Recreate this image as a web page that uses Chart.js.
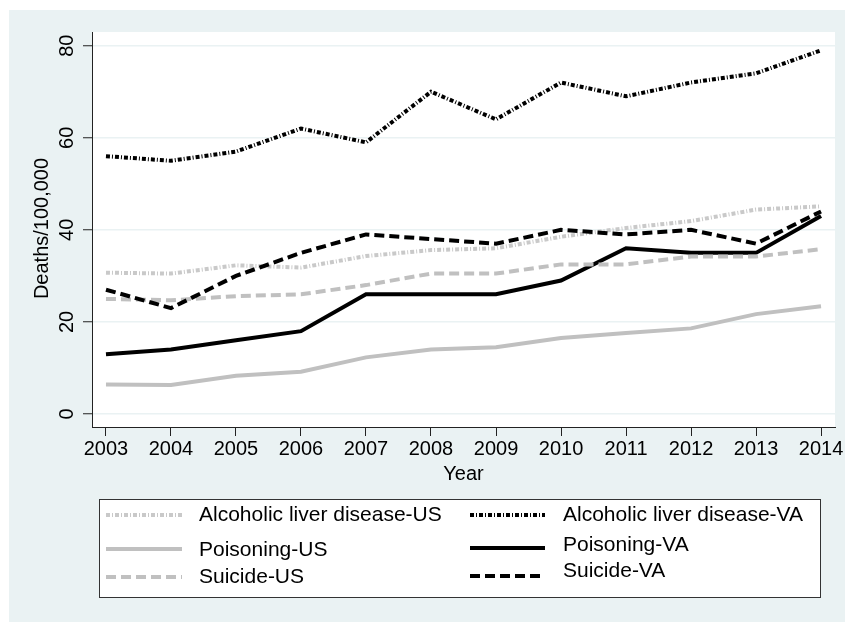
<!DOCTYPE html>
<html>
<head>
<meta charset="utf-8">
<script src="https://cdn.jsdelivr.net/npm/chart.js@4/dist/chart.umd.min.js"></script>
<style>
  html, body { margin: 0; padding: 0; background: #ffffff; }
  #wrap { width: 845px; height: 622px; }
</style>
</head>
<body>
<div id="wrap"><canvas id="c" width="845" height="622"></canvas></div>
<script>
// Death rates per 100,000, 2003-2014
const years = [2003, 2004, 2005, 2006, 2007, 2008, 2009, 2010, 2011, 2012, 2013, 2014];
const alcoholUS   = [30.7, 30.5, 32.3, 31.8, 34.3, 35.6, 36.0, 38.5, 40.4, 41.9, 44.4, 45.1];
const alcoholVA   = [56, 55, 57, 62, 59, 70, 64, 72, 69, 72, 74, 79];
const poisonUS    = [6.4, 6.3, 8.3, 9.2, 12.3, 14.0, 14.5, 16.5, 17.6, 18.6, 21.7, 23.4];
const poisonVA    = [13, 14, 16, 18, 26, 26, 26, 29, 36, 35, 35, 43];
const suicideUS   = [25.0, 24.7, 25.6, 26.0, 28.0, 30.5, 30.5, 32.5, 32.5, 34.2, 34.2, 35.8];
const suicideVA   = [27, 23, 30, 35, 39, 38, 37, 40, 39, 40, 37, 44];
const yTickValues = [0, 20, 40, 60, 80];
const seriesNames = [
  'Alcoholic liver disease-US', 'Alcoholic liver disease-VA',
  'Poisoning-US', 'Poisoning-VA',
  'Suicide-US', 'Suicide-VA'
];

const FONT = "'Liberation Sans', Arial, Helvetica, sans-serif";
const REGION_BG = '#eaf2f3';
const GREY = '#c0c0c0';
const LIGHT_GREY = '#c9c9c9';
const dotDash = [4, 2, 1, 2];
const longDash = [10, 5];

function series(label, data, color, dash, order) {
  return {
    label, order,
    data: data.map((v, i) => ({ x: years[i], y: v })),
    borderColor: color,
    backgroundColor: color,
    borderWidth: 4,
    borderDash: dash,
    borderCapStyle: 'butt',
    pointRadius: 0,
    tension: 0,
    fill: false
  };
}

// Graph region background, plot area and the custom text (y labels, y title, legend)
const frame = {
  id: 'frame',
  beforeDraw(chart) {
    const { ctx, chartArea: a } = chart;
    ctx.save();
    ctx.fillStyle = '#ffffff';
    ctx.fillRect(0, 0, chart.width, chart.height);
    ctx.fillStyle = REGION_BG;
    ctx.fillRect(9, 10, chart.width - 9, chart.height - 10);
    ctx.fillStyle = '#ffffff';
    ctx.fillRect(a.left, a.top, a.right - a.left, a.bottom - a.top);
    ctx.restore();
  },
  afterDraw(chart) {
    const { ctx } = chart;
    const ys = chart.scales.y;
    ctx.save();
    ctx.fillStyle = '#000';
    ctx.textAlign = 'center';
    ctx.textBaseline = 'middle';
    // rotated y tick labels
    ctx.font = `20px ${FONT}`;
    ys.ticks.forEach(t => {
      const py = ys.getPixelForValue(t.value);
      ctx.save();
      ctx.translate(67, py);
      ctx.rotate(-Math.PI / 2);
      ctx.fillText(String(t.value), 0, 0);
      ctx.restore();
    });
    // y axis title
    ctx.save();
    ctx.translate(42, (ys.top + ys.bottom) / 2 - 1);
    ctx.rotate(-Math.PI / 2);
    ctx.fillText('Deaths/100,000', 0, 0);
    ctx.restore();

    // legend box
    const bx = 99.5, by = 499.5, bw = 721, bh = 98;
    ctx.fillStyle = '#ffffff';
    ctx.fillRect(bx, by, bw, bh);
    ctx.strokeStyle = '#333';
    ctx.lineWidth = 1;
    ctx.strokeRect(bx, by, bw, bh);

    const cols = [
      { lx0: 106, lx1: 182, tx: 199, lineY: [515, 549, 577], textY: [515, 550, 577] },
      { lx0: 470, lx1: 545, tx: 563, lineY: [515, 548, 576], textY: [515, 545, 571] }
    ];
    ctx.font = `21px ${FONT}`;
    ctx.textAlign = 'left';
    chart.data.datasets.forEach((ds, i) => {
      const c = cols[i % 2];
      const r = Math.floor(i / 2);
      ctx.save();
      ctx.strokeStyle = ds.borderColor;
      ctx.lineWidth = ds.borderWidth;
      ctx.lineCap = 'butt';
      ctx.setLineDash(ds.borderDash || []);
      ctx.beginPath();
      ctx.moveTo(c.lx0, c.lineY[r]);
      ctx.lineTo(c.lx1, c.lineY[r]);
      ctx.stroke();
      ctx.restore();
      ctx.fillStyle = '#000';
      ctx.fillText(ds.label, c.tx, c.textY[r]);
    });
    ctx.restore();
  }
};

new Chart(document.getElementById('c'), {
  type: 'line',
  data: {
    datasets: [
      series(seriesNames[0], alcoholUS, LIGHT_GREY, dotDash, 6),
      series(seriesNames[1], alcoholVA, '#000000', dotDash, 5),
      series(seriesNames[2], poisonUS, GREY, [], 4),
      series(seriesNames[3], poisonVA, '#000000', [], 3),
      series(seriesNames[4], suicideUS, GREY, longDash, 2),
      series(seriesNames[5], suicideVA, '#000000', longDash, 1)
    ]
  },
  options: {
    responsive: false,
    animation: false,
    devicePixelRatio: 1,
    layout: { padding: { left: 0, top: 32, right: 10, bottom: 136 } },
    plugins: { legend: { display: false }, tooltip: { enabled: false } },
    scales: {
      x: {
        type: 'linear',
        min: 2002.785,
        max: 2014.215,
        afterBuildTicks: s => { s.ticks = years.map(v => ({ value: v })); },
        grid: { drawOnChartArea: false, drawTicks: true, tickLength: 9, tickColor: '#222', tickWidth: 1 },
        border: { display: true, color: '#222', width: 1 },
        ticks: {
          color: '#000',
          font: { family: FONT, size: 20 },
          padding: 1,
          maxRotation: 0,
          minRotation: 0,
          autoSkip: false,
          callback: v => String(v)
        },
        title: {
          display: true,
          text: 'Year',
          color: '#000',
          font: { family: FONT, size: 20 },
          padding: { top: 0, bottom: 0 }
        }
      },
      y: {
        type: 'linear',
        min: -2.82,
        max: 82.97,
        afterBuildTicks: s => { s.ticks = yTickValues.map(v => ({ value: v })); },
        afterFit: s => { s.width = 92; },
        grid: { color: REGION_BG, lineWidth: 1.5, drawTicks: true, tickLength: 9, tickColor: '#222', tickWidth: 1 },
        border: { display: true, color: '#222', width: 1 },
        ticks: { display: false },
        title: { display: false }
      }
    }
  },
  plugins: [frame]
});
</script>
</body>
</html>
